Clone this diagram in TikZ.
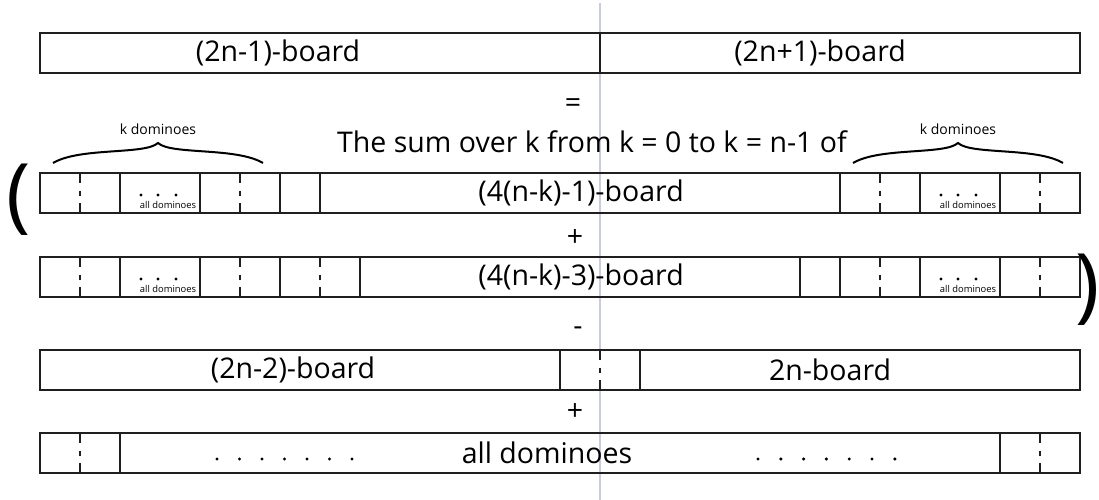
\documentclass[tikz,border=0pt]{standalone}
\usepackage{fontspec}
\setmainfont{Open Sans}
\definecolor{guidegrey}{RGB}{200,205,216}

\begin{document}
\begin{tikzpicture}[x=1pt,y=-1pt,line width=2pt,
	board/.style={draw=black!88},
	halfline/.style={draw=black!88,dash pattern=on 10pt off 7.5pt on 5pt off 7.5pt on 10pt},
	big/.style={font=\fontsize{28.5}{30}\selectfont},
	small/.style={font=\fontsize{14}{15}\selectfont},
	tiny/.style={font=\fontsize{9.4}{10}\selectfont,inner sep=0pt},
	paren/.style={font=\fontsize{82}{84}\selectfont,inner sep=0pt}]
	\useasboundingbox (0,0) rectangle (1099,500);
	
	% guide line
	\draw[guidegrey,line width=1.6pt] (600,3) -- (600,350) (600,390) -- (600,500);
	
	% outer boards
	\foreach \y in {33,173,257,350,433} {
		\draw[board] (40,\y) rectangle (1080,\y+40);
	}
	% cell borders
	\foreach \x/\y in {600/33,
		120/173, 200/173, 280/173, 320/173, 840/173, 920/173, 1000/173,
		120/257, 200/257, 280/257, 360/257, 800/257, 840/257, 920/257, 1000/257,
		560/350, 640/350,
		120/433, 1000/433} {
		\draw[board] (\x,\y) -- ++(0,40);
	}
	% domino middles
	\foreach \x/\y in {80/173, 240/173, 880/173, 1040/173,
		80/257, 240/257, 320/257, 880/257, 1040/257,
		600/350, 80/433, 1040/433} {
		\draw[halfline] (\x,\y) -- ++(0,40);
	}
	% cells of all dominoes
	\foreach \x/\y [count=\i] in {120/173, 920/173, 120/257, 920/257} {
		\foreach \d in {21,38,56} \fill (\x+\d,\y+22) circle (1.7pt);
		\node[tiny] (alld\i) at (\x+48,\y+32) {all dominoes};
	}
	\foreach \i in {0,...,6} {
		\fill (217+22.5*\i,459) circle (1.7pt);
		\fill (758+22.8*\i,459) circle (1.7pt);
	}
	
	% braces
	\draw (53,163) .. controls (80,147) and (145,155) .. (158,143) .. controls (171,155) and (236,147) .. (263,163);
	\draw (853,163) .. controls (880,147) and (945,155) .. (958,143) .. controls (971,155) and (1036,147) .. (1063,163);
	\node[small] (kleft) at (158,129) {k dominoes};
	\node[small] (kright) at (958,129) {k dominoes};
	
	% texts
	\node[big] (odd) at (278,53) {(2n-1)-board};
	\node[big] (oddp) at (820,53) {(2n+1)-board};
	\node[big] (eq) at (573,106) {=};
	\node[big] (sum) at (592,142) {The sum over k from k = 0 to k = n-1 of};
	\node[big] (four1) at (581,193) {(4(n-k)-1)-board};
	\node[big] (plusa) at (575,238) {+};
	\node[big] (four3) at (581,277) {(4(n-k)-3)-board};
	\node[big] (minus) at (578,331) {-};
	\node[big] (even) at (293,370) {(2n-2)-board};
	\node[big] (evenp) at (830,370) {2n-board};
	\node[big] (plusb) at (575,412) {+};
	\node[big] (alldom) at (547,453) {all dominoes};
	
	\node[paren] (lpar) at (19,200) {(};
	\node[paren] (rpar) at (1088,290) {)};
\end{tikzpicture}
\end{document}
